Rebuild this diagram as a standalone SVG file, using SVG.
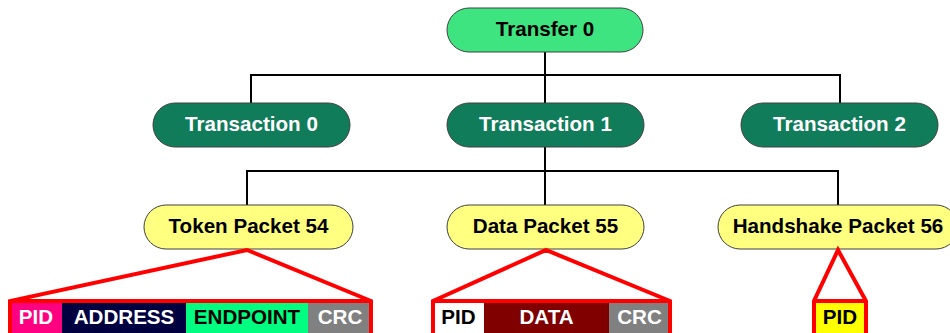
<svg xmlns="http://www.w3.org/2000/svg" width="950" height="333" viewBox="0 0 950 333">
  <style>
    .node { stroke: #404040; stroke-width: 1; }
    .transfer { fill: #3ee47f; }
    .trans { fill: #107c5a; }
    .packet { fill: #ffff80; }
    .lbl { font-family: "Liberation Sans", Arial, sans-serif; font-weight: bold; font-size: 20.6px; text-anchor: middle; }
    .dark { fill: #000000; }
    .light { fill: #ffffff; }
    .wire { fill: none; stroke: #000000; stroke-width: 2; }
    .fan { fill: none; stroke: #ff0000; stroke-width: 4; stroke-linejoin: miter; }
    .field { stroke: none; }
  </style>

  <!-- tree connectors -->
  <g id="connectors">
    <path class="wire" d="M545 52 V75 M251 75 H840 M251 74 V103 M545 74 V103 M840 74 V103"/>
    <path class="wire" d="M545 147 V171 M247 171 H838 M247 170 V205 M545 170 V205 M838 170 V205"/>
  </g>

  <g id="transfer0">
    <rect class="node transfer" x="447" y="8" width="196" height="44" rx="22"/>
    <text class="lbl dark" x="545" y="36">Transfer 0</text>
  </g>

  <g id="transaction0">
    <rect class="node trans" x="153" y="103" width="197" height="44" rx="22"/>
    <text class="lbl light" x="251.5" y="131">Transaction 0</text>
  </g>
  <g id="transaction1">
    <rect class="node trans" x="447" y="103" width="197" height="44" rx="22"/>
    <text class="lbl light" x="545.5" y="131">Transaction 1</text>
  </g>
  <g id="transaction2">
    <rect class="node trans" x="741" y="103" width="197" height="44" rx="22"/>
    <text class="lbl light" x="839.5" y="131">Transaction 2</text>
  </g>

  <g id="token54">
    <rect class="node packet" x="144" y="205" width="209" height="44" rx="22"/>
    <text class="lbl dark" x="248.5" y="233">Token Packet 54</text>
  </g>
  <g id="data55">
    <rect class="node packet" x="447" y="205" width="197" height="44" rx="22"/>
    <text class="lbl dark" x="545.5" y="233">Data Packet 55</text>
  </g>
  <g id="handshake56">
    <rect class="node packet" x="718" y="205" width="240" height="44" rx="22"/>
    <text class="lbl dark" x="838" y="233">Handshake Packet 56</text>
  </g>

  <!-- token packet fields -->
  <g id="token-fields">
    <rect class="field" x="10" y="301" width="52" height="40" fill="#ff0080"/>
    <rect class="field" x="62" y="301" width="124" height="40" fill="#000040"/>
    <rect class="field" x="186" y="301" width="122" height="40" fill="#00ff80"/>
    <rect class="field" x="308" y="301" width="63" height="40" fill="#808080"/>
    <text class="lbl light" x="36" y="324">PID</text>
    <text class="lbl light" x="124" y="324">ADDRESS</text>
    <text class="lbl dark" x="247" y="324">ENDPOINT</text>
    <text class="lbl light" x="340" y="324">CRC</text>
    <path class="fan" d="M10 340 V301 L247 250 L371 301 V340 M10 301 H371"/>
  </g>

  <!-- data packet fields -->
  <g id="data-fields">
    <rect class="field" x="433" y="301" width="51" height="40" fill="#ffffff"/>
    <rect class="field" x="484" y="301" width="125" height="40" fill="#800000"/>
    <rect class="field" x="609" y="301" width="61" height="40" fill="#808080"/>
    <text class="lbl dark" x="458.5" y="324">PID</text>
    <text class="lbl light" x="546.5" y="324">DATA</text>
    <text class="lbl light" x="639.5" y="324">CRC</text>
    <path class="fan" d="M433 340 V301 L546 250 L670 301 V340 M433 301 H670"/>
  </g>

  <!-- handshake packet field -->
  <g id="handshake-fields">
    <rect class="field" x="814" y="301" width="52" height="40" fill="#ffff00"/>
    <text class="lbl dark" x="840" y="324">PID</text>
    <path class="fan" d="M814 340 V301 L838 250 L866 301 V340 M814 301 H866"/>
  </g>
</svg>
